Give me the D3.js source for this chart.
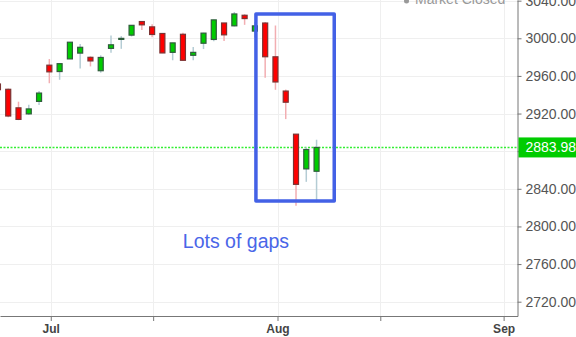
<!DOCTYPE html>
<html>
<head>
<meta charset="utf-8">
<script src="https://cdn.jsdelivr.net/npm/d3@7/dist/d3.min.js"></script>
<style>
    html, body { margin: 0; padding: 0; background: #fff; }
    svg { display: block; font-family: "Liberation Sans", Arial, sans-serif; }
    .axis path, .axis line { stroke: #777; }
    .axis-y text { fill: #555; font-size: 14px; }
    .axis-x text { fill: #444; font-size: 12px; font-weight: bold; }
</style>
</head>
<body>
<div id="vis"></div>
<script>
//daily candles, one per trading day
var dates = ['2019-06-24', '2019-06-25', '2019-06-26', '2019-06-27', '2019-06-28',
    '2019-07-01', '2019-07-02', '2019-07-03', '2019-07-05', '2019-07-08', '2019-07-09',
    '2019-07-10', '2019-07-11', '2019-07-12', '2019-07-15', '2019-07-16', '2019-07-17',
    '2019-07-18', '2019-07-19', '2019-07-22', '2019-07-23', '2019-07-24', '2019-07-25',
    '2019-07-26', '2019-07-29', '2019-07-30', '2019-07-31', '2019-08-01', '2019-08-02',
    '2019-08-05', '2019-08-06', '2019-08-07'];
var opens = [2951.42, 2945.78, 2926.07, 2919.66, 2932.94, 2971.41, 2964.66, 2978.08, 2984.25,
    2979.77, 2965.52, 2989.30, 2999.62, 3003.36, 3017.80, 3012.13, 3005.10, 2985.07, 3004.26,
    2981.93, 2994.74, 2998.77, 3016.26, 3013.25, 3024.47, 3007.66, 3016.22, 2980.32, 2943.90,
    2898.07, 2861.18, 2858.65];
var highs = [2954.18, 2946.52, 2932.59, 2929.30, 2943.98, 2977.93, 2973.21, 2995.84, 2994.03,
    2980.76, 2981.90, 3002.98, 3002.33, 3013.92, 3017.80, 3015.02, 3005.26, 2995.11, 3006.02,
    2990.71, 3005.90, 3019.59, 3016.31, 3027.98, 3025.61, 3017.19, 3017.40, 3013.59, 2945.50,
    2898.07, 2884.40, 2892.17];
var lows = [2944.05, 2916.01, 2912.99, 2918.57, 2929.05, 2952.22, 2955.92, 2977.96, 2967.97,
    2970.09, 2963.44, 2984.62, 2988.80, 3001.87, 3008.77, 3001.15, 2984.25, 2976.65, 2975.86,
    2976.65, 2988.56, 2996.82, 2997.24, 3012.59, 3014.30, 3000.94, 2958.08, 2945.23, 2914.11,
    2822.12, 2847.42, 2825.71];
var closes = [2945.35, 2917.38, 2913.78, 2924.92, 2941.76, 2964.33, 2973.01, 2995.82, 2990.41,
    2975.95, 2979.63, 2993.07, 2999.91, 3013.77, 3014.30, 3004.04, 2984.42, 2995.11, 2976.61,
    2985.03, 3005.47, 3019.56, 3003.67, 3025.86, 3020.97, 3013.18, 2980.38, 2953.56, 2932.05,
    2844.74, 2881.77, 2883.98];

var lastPrice = 2883.98;

//x ticks sit on trading-day index (future days included)
var xTickPos = [5.14, 15.1, 27.2, 37.2, 49.2];
var xTickLabels = ['Jul', '', 'Aug', '', 'Sep'];
var yTicks = [2720, 2760, 2800, 2840, 2880, 2920, 2960, 3000, 3040];

//annotation: box over the last days, in index / price units
var boxIdx = [25.1, 32.72];
var boxVal = [3025.8, 2827];
var noteText = 'Lots of gaps';
var noteAt = { idx: 23.16, val: 2776.8 };

//layout
var W = 576, H = 337;
var dim = { w: 517.5, h: 316 };

var x = d3.scaleLinear().domain([0.2, 50.55]).range([0, dim.w]);
var y = d3.scaleLinear().domain([2704.8, 3040.7]).range([dim.h, 0]);

var candles = dates.map(function (d, i) {
    return { date: d, i: i, o: opens[i], h: highs[i], l: lows[i], c: closes[i] };
});

var svg = d3.select('#vis').append('svg')
    .attr('width', W)
    .attr('height', H);

svg.append('clipPath').attr('id', 'plot-clip')
    .append('rect')
    .attr('width', dim.w)
    .attr('height', dim.h);

//grid
svg.append('g').selectAll('line')
    .data(yTicks)
    .enter().append('line')
    .attr('x1', 0).attr('x2', dim.w)
    .attr('y1', function (d) { return Math.round(y(d)) + 0.5; })
    .attr('y2', function (d) { return Math.round(y(d)) + 0.5; })
    .attr('stroke', '#efefef');
svg.append('g').selectAll('line')
    .data(xTickPos)
    .enter().append('line')
    .attr('x1', function (d) { return Math.round(x(d)) + 0.5; })
    .attr('x2', function (d) { return Math.round(x(d)) + 0.5; })
    .attr('y1', 0).attr('y2', dim.h)
    .attr('stroke', '#efefef');

//last price dotted line (snapped to a pixel row)
var lastY = Math.round(y(lastPrice)) + 0.5;
svg.append('line')
    .attr('x1', 0).attr('x2', dim.w)
    .attr('y1', lastY).attr('y2', lastY)
    .attr('stroke', '#33ee33')
    .attr('stroke-width', 1.4)
    .attr('stroke-dasharray', '2,1.5');

//candles
var plot = svg.append('g').attr('clip-path', 'url(#plot-clip)');
var bodyW = 5;

plot.selectAll('.wick')
    .data(candles)
    .enter().append('line')
    .attr('class', 'wick')
    .attr('x1', function (d) { return x(d.i); })
    .attr('x2', function (d) { return x(d.i); })
    .attr('y1', function (d) { return y(d.h); })
    .attr('y2', function (d) { return y(d.l); })
    .attr('stroke', function (d) { return d.c >= d.o ? '#b4ccd4' : '#f2aeb2'; })
    .attr('stroke-width', 1.5);

plot.selectAll('.body')
    .data(candles)
    .enter().append('rect')
    .attr('class', 'body')
    .attr('x', function (d) { return x(d.i) - bodyW / 2; })
    .attr('y', function (d) { return y(Math.max(d.o, d.c)); })
    .attr('width', bodyW)
    .attr('height', function (d) { return Math.max(1, Math.abs(y(d.o) - y(d.c))); })
    .attr('fill', function (d) { return d.c >= d.o ? '#00cc00' : '#ff0000'; })
    .attr('stroke', function (d) { return d.c >= d.o ? '#2f5c3c' : '#7a3434'; })
    .attr('stroke-width', 1.2);

//axes
var xAxis = d3.axisBottom(x)
    .tickValues(xTickPos)
    .tickSize(5)
    .tickSizeOuter(0)
    .tickPadding(3)
    .tickFormat(function (d, i) { return xTickLabels[i]; });
svg.append('g')
    .attr('class', 'axis axis-x')
    .attr('transform', 'translate(0, ' + dim.h + ')')
    .call(xAxis);

//the 2880 label sits under the last-price tag
var yAxis = d3.axisRight(y)
    .tickValues(yTicks)
    .tickSize(4)
    .tickSizeOuter(0)
    .tickPadding(4)
    .tickFormat(function (d) {
        return Math.abs(d - lastPrice) < 20 ? '' : d3.format('.2f')(d);
    });
svg.append('g')
    .attr('class', 'axis axis-y')
    .attr('transform', 'translate(' + dim.w + ', 0)')
    .call(yAxis);

//last price label
svg.append('rect')
    .attr('x', dim.w + 1)
    .attr('y', y(lastPrice) - 10)
    .attr('width', W - dim.w)
    .attr('height', 20)
    .attr('fill', '#00cc00');
svg.append('text')
    .attr('x', dim.w + 8)
    .attr('y', y(lastPrice) + 5)
    .text(lastPrice.toFixed(2))
    .attr('fill', '#fff')
    .style('font-size', '14px');

//market status
svg.append('circle')
    .attr('cx', 406.5).attr('cy', 1)
    .attr('r', 2.5)
    .attr('fill', '#999');
svg.append('text')
    .attr('x', 415)
    .attr('y', 4)
    .text('Market Closed')
    .attr('fill', '#999')
    .style('font-size', '14px');

//annotation
svg.append('rect')
    .attr('x', x(boxIdx[0]))
    .attr('y', y(boxVal[0]))
    .attr('width', x(boxIdx[1]) - x(boxIdx[0]))
    .attr('height', y(boxVal[1]) - y(boxVal[0]))
    .attr('fill', 'none')
    .attr('stroke', '#4361e6')
    .attr('stroke-width', 3.5)
    .attr('stroke-linejoin', 'round');
svg.append('text')
    .attr('x', x(noteAt.idx))
    .attr('y', y(noteAt.val))
    .attr('text-anchor', 'middle')
    .text(noteText)
    .attr('fill', '#4a66e8')
    .style('font-size', '19.5px');
</script>
</body>
</html>
